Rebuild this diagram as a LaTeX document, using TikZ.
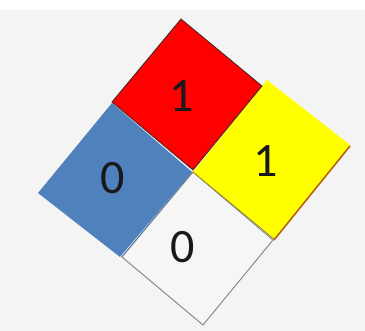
\documentclass[tikz,border=0pt]{standalone}
\usepackage{fontspec}
\setmainfont{Carlito}
\definecolor{bg}{HTML}{F4F4F4}
\definecolor{nfpared}{HTML}{FE0000}
\definecolor{nfpayellow}{HTML}{FFFF00}
\definecolor{nfpablue}{HTML}{4F81BD}
\definecolor{nfpawhite}{HTML}{F6F6F6}
\definecolor{edgedark}{HTML}{3A2A2A}
\definecolor{edgegray}{HTML}{8A8A8A}
\definecolor{edgeorange}{HTML}{B8620A}
\begin{document}
\begin{tikzpicture}[x=1pt,y=-1pt,
  digit/.style={font=\fontsize{48}{48}\selectfont, text=black!90, inner sep=0pt}]
\useasboundingbox (0,0) rectangle (365,331);
\fill[bg] (0,0) rectangle (365,331);
\fill[white] (0,0) rectangle (365,10);
% blue (health)
\fill[nfpablue] (112,103) -- (192,172) -- (120,257) -- (38,193) -- cycle;
% white (special)
\filldraw[fill=nfpawhite, draw=edgegray, line width=1pt] (193,172) -- (273,240) -- (203,325) -- (122,257) -- cycle;
\draw[nfpablue!70!gray, line width=0.8pt] (192,172) -- (122,257);
% yellow (instability)
\fill[nfpayellow] (193,172) -- (267,80) -- (350,145) -- (274,239) -- cycle;
\draw[edgeorange, line width=1.6pt] (350,146) -- (274,240);
\draw[edgedark!60!nfpayellow, line width=0.6pt] (193,172) -- (274,239);
% red (flammability)
\filldraw[fill=nfpared, draw=edgedark, line width=0.8pt] (112,102) -- (181,19) -- (262,86) -- (193,170) -- cycle;
% labels
\node[digit] (flam) at (182,96) {1};
\node[digit] (inst) at (266,161) {1};
\node[digit] (health) at (113,178) {0};
\node[digit] (special) at (183,247) {0};
\end{tikzpicture}
\end{document}
